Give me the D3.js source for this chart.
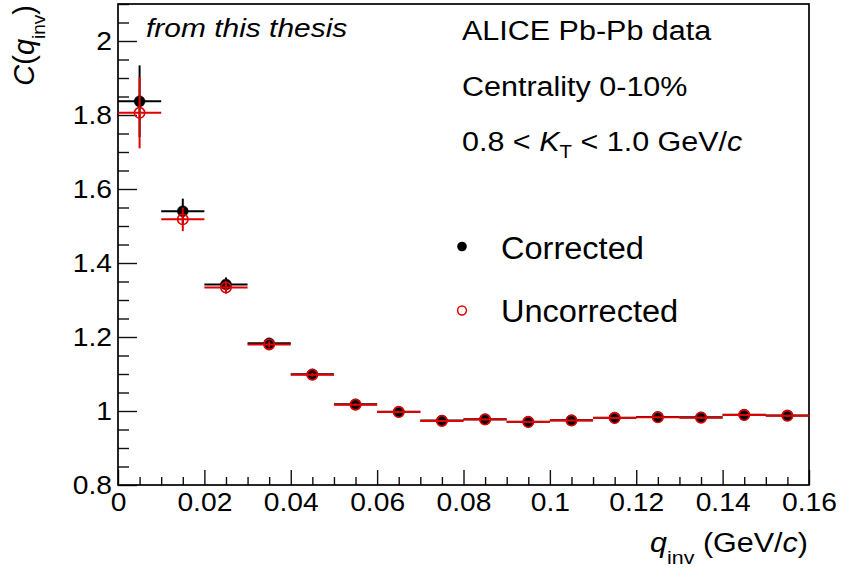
<!DOCTYPE html>
<html>
<head>
<meta charset="utf-8">
<script src="https://cdn.jsdelivr.net/npm/d3@7"></script>
<style>
  html, body { margin: 0; padding: 0; background: #fff; }
  svg { display: block; font-family: "Liberation Sans", Arial, Helvetica, sans-serif; }
</style>
</head>
<body>
<svg id="chart" width="843" height="574"></svg>
<script>
// ---------------- data ----------------
const qCenters = [0.005, 0.015, 0.025, 0.035, 0.045, 0.055, 0.065, 0.075,
                  0.085, 0.095, 0.105, 0.115, 0.125, 0.135, 0.145, 0.155];
const binWidth = 0.01;
const corrected    = [1.837, 1.540, 1.342, 1.183, 1.099, 1.018, 0.998, 0.974,
                      0.978, 0.971, 0.975, 0.982, 0.984, 0.983, 0.990, 0.988];
const correctedErr = [0.097, 0.034, 0.019, 0.008, 0.005, 0.004, 0.003, 0.003,
                      0.003, 0.003, 0.003, 0.003, 0.003, 0.003, 0.003, 0.003];
const uncorrected    = [1.806, 1.518, 1.334, 1.180, 1.098, 1.017, 0.997, 0.973,
                        0.977, 0.970, 0.974, 0.981, 0.983, 0.982, 0.989, 0.987];
const uncorrectedErr = [0.096, 0.032, 0.017, 0.008, 0.005, 0.004, 0.003, 0.003,
                        0.003, 0.003, 0.003, 0.003, 0.003, 0.003, 0.003, 0.003];
const xTicks = [0, 0.02, 0.04, 0.06, 0.08, 0.1, 0.12, 0.14, 0.16];
const yTicks = [0.8, 1, 1.2, 1.4, 1.6, 1.8, 2];
const xMinorStep = 0.005;
const yMinorStep = 0.05;
const legendLabels = ["Corrected", "Uncorrected"];
const infoLines = ["ALICE Pb-Pb data", "Centrality 0-10%"];

// ---------------- layout ----------------
const svg = d3.select("#chart");
const L = 118, R = 809, T = 4, B = 485;
const SX = 1.13; // horizontal text stretch
const RED = "#e00000";

const x = d3.scaleLinear().domain([0, 0.16]).range([L, R]);
const y = d3.scaleLinear().domain([0.8, 2.1]).range([B, T]);

svg.append("rect").attr("width", 843).attr("height", 574).attr("fill", "#fff");

function stretchText(sel) {
  sel.each(function () {
    const t = d3.select(this);
    const tx = +(t.attr("x") || 0), ty = +(t.attr("y") || 0);
    t.attr("x", null).attr("y", null)
     .attr("transform", `translate(${tx},${ty}) scale(${SX},1)`);
  });
}

function richText(parent, parts, opts) {
  const g = parent.append("g").attr("transform", opts.transform);
  const t = g.append("text")
    .attr("font-size", opts.size)
    .attr("text-anchor", opts.anchor || "start")
    .attr("fill", "#000");
  if (opts.italic) t.attr("font-style", "italic");
  let shifted = 0;
  parts.forEach(p => {
    const ts = t.append("tspan").text(p.t);
    if (p.italic) ts.attr("font-style", "italic");
    const target = p.sub ? opts.subShift : 0;
    if (target !== shifted) { ts.attr("dy", target - shifted); shifted = target; }
    if (p.sub) ts.attr("font-size", opts.subSize);
  });
  return t;
}

// minor ticks
const xMinor = d3.range(0, 0.16 + 1e-9, xMinorStep).filter(v => !xTicks.some(t => Math.abs(t - v) < 1e-9));
const yMinor = d3.range(0.8, 2.1 + 1e-9, yMinorStep).filter(v => !yTicks.some(t => Math.abs(t - v) < 1e-9));

const tickStroke = "#111";

const gxMinor = svg.append("g").attr("transform", `translate(0,${B})`)
  .call(d3.axisBottom(x).tickValues(xMinor).tickSize(-8).tickSizeOuter(0).tickFormat(""));
const gyMinor = svg.append("g").attr("transform", `translate(${L},0)`)
  .call(d3.axisLeft(y).tickValues(yMinor).tickSize(-11).tickSizeOuter(0).tickFormat(""));

const gx = svg.append("g").attr("transform", `translate(0,${B})`)
  .call(d3.axisBottom(x).tickValues(xTicks).tickSize(-15).tickSizeOuter(0).tickPadding(8)
        .tickFormat(d => String(+d.toFixed(3))));
const gy = svg.append("g").attr("transform", `translate(${L},0)`)
  .call(d3.axisLeft(y).tickValues(yTicks).tickSize(-19).tickSizeOuter(0).tickPadding(6)
        .tickFormat(d => String(+d.toFixed(2))));

[gxMinor, gyMinor, gx, gy].forEach(g => {
  g.selectAll(".domain").remove();
  g.selectAll(".tick line").attr("stroke", tickStroke).attr("stroke-width", 1.4);
});
[gx, gy].forEach(g => {
  g.selectAll(".tick text")
    .attr("font-size", 25)
    .attr("font-family", "'Liberation Sans', Arial, Helvetica, sans-serif")
    .attr("fill", "#000");
  stretchText(g.selectAll(".tick text"));
});

// frame
svg.append("rect")
  .attr("x", L).attr("y", T).attr("width", R - L).attr("height", B - T)
  .attr("fill", "none").attr("stroke", "#000").attr("stroke-width", 1.7);

// ---------------- data series ----------------
function drawSeries(vals, errs, color, filled) {
  const g = svg.append("g");
  const d = qCenters.map((q, i) => ({ q, v: vals[i], e: errs[i] }));
  g.selectAll("line.h").data(d).join("line")
    .attr("x1", p => x(p.q - binWidth / 2)).attr("x2", p => x(p.q + binWidth / 2))
    .attr("y1", p => y(p.v)).attr("y2", p => y(p.v))
    .attr("stroke", color).attr("stroke-width", 2);
  g.selectAll("line.v").data(d).join("line")
    .attr("x1", p => x(p.q)).attr("x2", p => x(p.q))
    .attr("y1", p => y(p.v - p.e)).attr("y2", p => y(p.v + p.e))
    .attr("stroke", color).attr("stroke-width", 2);
  g.selectAll("circle").data(d).join("circle")
    .attr("cx", p => x(p.q)).attr("cy", p => y(p.v))
    .attr("r", filled ? 5.5 : 5.2)
    .attr("fill", filled ? color : "none")
    .attr("stroke", color).attr("stroke-width", filled ? 0.5 : 1.6);
}
drawSeries(corrected, correctedErr, "#000", true);
drawSeries(uncorrected, uncorrectedErr, RED, false);

// ---------------- texts ----------------
richText(svg, [{ t: "from this thesis" }],
  { transform: `translate(146,37) scale(${SX},1)`, size: 26.5, italic: true });

richText(svg, [{ t: infoLines[0] }],
  { transform: `translate(462,40) scale(${SX},1)`, size: 27 });
richText(svg, [{ t: infoLines[1] }],
  { transform: `translate(462,96) scale(${SX},1)`, size: 27 });
richText(svg, [{ t: "0.8 < " }, { t: "K", italic: true }, { t: "T", sub: true }, { t: " < 1.0 GeV/" }, { t: "c", italic: true }],
  { transform: `translate(462,151) scale(${SX},1)`, size: 27, subSize: 18, subShift: 7 });

// legend
svg.append("circle").attr("cx", 462).attr("cy", 246.5).attr("r", 4.8).attr("fill", "#000");
svg.append("circle").attr("cx", 462).attr("cy", 310.5).attr("r", 4.4)
  .attr("fill", "none").attr("stroke", RED).attr("stroke-width", 1.5);
richText(svg, [{ t: legendLabels[0] }],
  { transform: `translate(501,259) scale(1.05,1)`, size: 31 });
richText(svg, [{ t: legendLabels[1] }],
  { transform: `translate(501,322) scale(1.05,1)`, size: 31 });

// axis titles
richText(svg, [{ t: "q", italic: true }, { t: "inv", sub: true }, { t: " (GeV/" }, { t: "c", italic: true }, { t: ")" }],
  { transform: `translate(808,552) scale(${SX},1)`, size: 27, anchor: "end", subSize: 19, subShift: 12 });

richText(svg, [{ t: "C", italic: true }, { t: "(" }, { t: "q", italic: true }, { t: "inv", sub: true }, { t: ")" }],
  { transform: `translate(34,5) rotate(-90)`, size: 29, anchor: "end", subSize: 19, subShift: 11 });
</script>
</body>
</html>
